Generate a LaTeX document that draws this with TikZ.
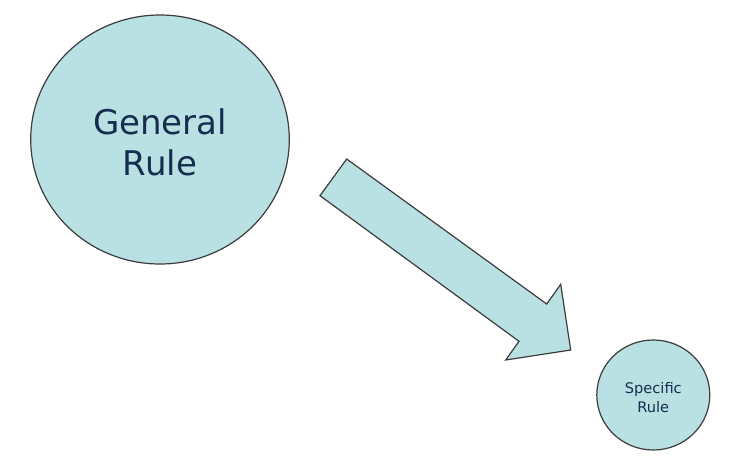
\documentclass[tikz,border=0pt]{standalone}
\usepackage{fontspec}
\setmainfont{DejaVu Sans}
\usetikzlibrary{shapes.geometric}
\definecolor{fillc}{RGB}{185,224,227}
\definecolor{linec}{RGB}{60,60,60}
\definecolor{textc}{RGB}{22,46,78}
\tikzset{
  bubble/.style={ellipse, draw=linec, fill=fillc, line width=1.2pt, inner sep=0pt},
  bubbletext/.style={text=textc, align=center, inner sep=0pt},
  blockarrow/.style={draw=linec, fill=fillc, line width=1.2pt, line join=miter}
}
\begin{document}
\begin{tikzpicture}[x=1pt,y=-1pt]
\useasboundingbox (0,0) rectangle (732,474);
\node[bubble, minimum width=258.6pt, minimum height=249pt] (general) at (160,139.5) {};
\node[bubbletext, font=\fontsize{34}{41}\selectfont] (generaltext)
  at ([yshift=-2.5pt]general.center) {General\\Rule};
\node[bubble, minimum width=113pt, minimum height=110pt] (specific) at (653.3,395) {};
\node[bubbletext, font=\fontsize{14.6}{19}\selectfont] (specifictext)
  at ([yshift=-2.5pt]specific.center) {Specific\\Rule};
\draw[blockarrow] (346.7,159) -- (546.7,304) -- (560.7,284.3) -- (570.7,350)
  -- (505.7,360) -- (519,341.3) -- (320,195.7) -- cycle;
\end{tikzpicture}
\end{document}
